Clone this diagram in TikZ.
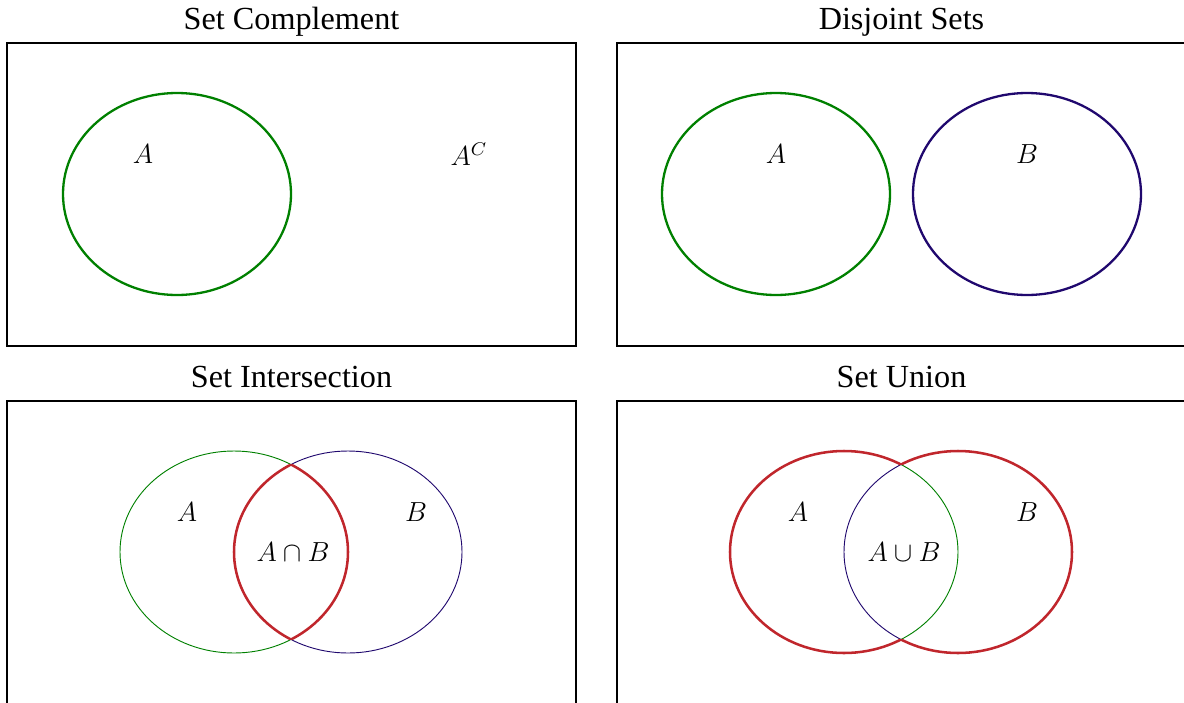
\documentclass[tikz,border=0pt]{standalone}
\usepackage{fontspec}
\setmainfont{Liberation Serif}
\usepackage{amsmath}
\usepackage{tikz}
\usetikzlibrary{positioning}
\definecolor{setgreen}{RGB}{0,128,0}
\definecolor{setblue}{RGB}{32,8,110}
\definecolor{setred}{RGB}{192,38,44}
\tikzset{
  panel/.style={rectangle, draw=black, line width=0.6pt,
    minimum width=247.4pt, minimum height=131.7pt, inner sep=0pt},
  title/.style={font=\fontsize{14}{16}\selectfont, inner sep=0pt, text depth=0pt},
  setlabel/.style={font=\large, inner sep=0pt},
  ringA/.style={draw=setgreen, line width=1pt},
  ringB/.style={draw=setblue, line width=1pt},
  thinA/.style={draw=setgreen, line width=0.4pt},
  thinB/.style={draw=setblue, line width=0.4pt},
  hilite/.style={draw=setred, line width=1.1pt}
}

\begin{document}
\begin{tikzpicture}[x=0.4348pt, y=-0.4348pt]
  \useasboundingbox (0,0) rectangle (1184,702);

  % panels and titles
  \node[panel] (cpl) at (291.5,194.5) {};
  \node[panel] (dsj) at (901.5,194.5) {};
  \node[panel] (isc) at (291.5,552.5) {};
  \node[panel] (uni) at (901.5,552.5) {};
  \node[title, above=5.3pt of cpl.north] (cpltitle) {Set Complement};
  \node[title, above=5.3pt of dsj.north] (dsjtitle) {Disjoint Sets};
  \node[title, above=5.3pt of isc.north] (isctitle) {Set Intersection};
  \node[title, above=5.3pt of uni.north] (unititle) {Set Union};

  % complement
  \draw[ringA] (177,194) ellipse [x radius=114, y radius=101];
  \node[setlabel] (cplA) at (143,154) {$A$};
  \node[setlabel] (cplAc) at (469,154) {$A^C$};

  % disjoint
  \draw[ringA] (776,194) ellipse [x radius=114, y radius=101];
  \draw[ringB] (1027,194) ellipse [x radius=114, y radius=101];
  \node[setlabel] (dsjA) at (776,154) {$A$};
  \node[setlabel] (dsjB) at (1027,154) {$B$};

  % intersection
  \draw[thinA] (234,552) ellipse [x radius=114, y radius=101];
  \draw[thinB] (348,552) ellipse [x radius=114, y radius=101];
  \begin{scope}
    \clip (348,552) ellipse [x radius=114, y radius=101];
    \draw[hilite] (234,552) ellipse [x radius=114, y radius=101];
  \end{scope}
  \begin{scope}
    \clip (234,552) ellipse [x radius=114, y radius=101];
    \draw[hilite] (348,552) ellipse [x radius=114, y radius=101];
  \end{scope}
  \node[setlabel] (iscA) at (187,512) {$A$};
  \node[setlabel] (iscB) at (416,512) {$B$};
  \node[setlabel] (iscAB) at (293,552) {$A\cap B$};

  % union
  \draw[thinA] (844,552) ellipse [x radius=114, y radius=101];
  \draw[thinB] (958,552) ellipse [x radius=114, y radius=101];
  \begin{scope}[even odd rule]
    \clip (617,401) rectangle (1186,704)
      (958,552) ellipse [x radius=114, y radius=101];
    \draw[hilite] (844,552) ellipse [x radius=114, y radius=101];
  \end{scope}
  \begin{scope}[even odd rule]
    \clip (617,401) rectangle (1186,704)
      (844,552) ellipse [x radius=114, y radius=101];
    \draw[hilite] (958,552) ellipse [x radius=114, y radius=101];
  \end{scope}
  \node[setlabel] (uniA) at (798,512) {$A$};
  \node[setlabel] (uniB) at (1027,512) {$B$};
  \node[setlabel] (uniAB) at (904,552) {$A\cup B$};
\end{tikzpicture}
\end{document}
